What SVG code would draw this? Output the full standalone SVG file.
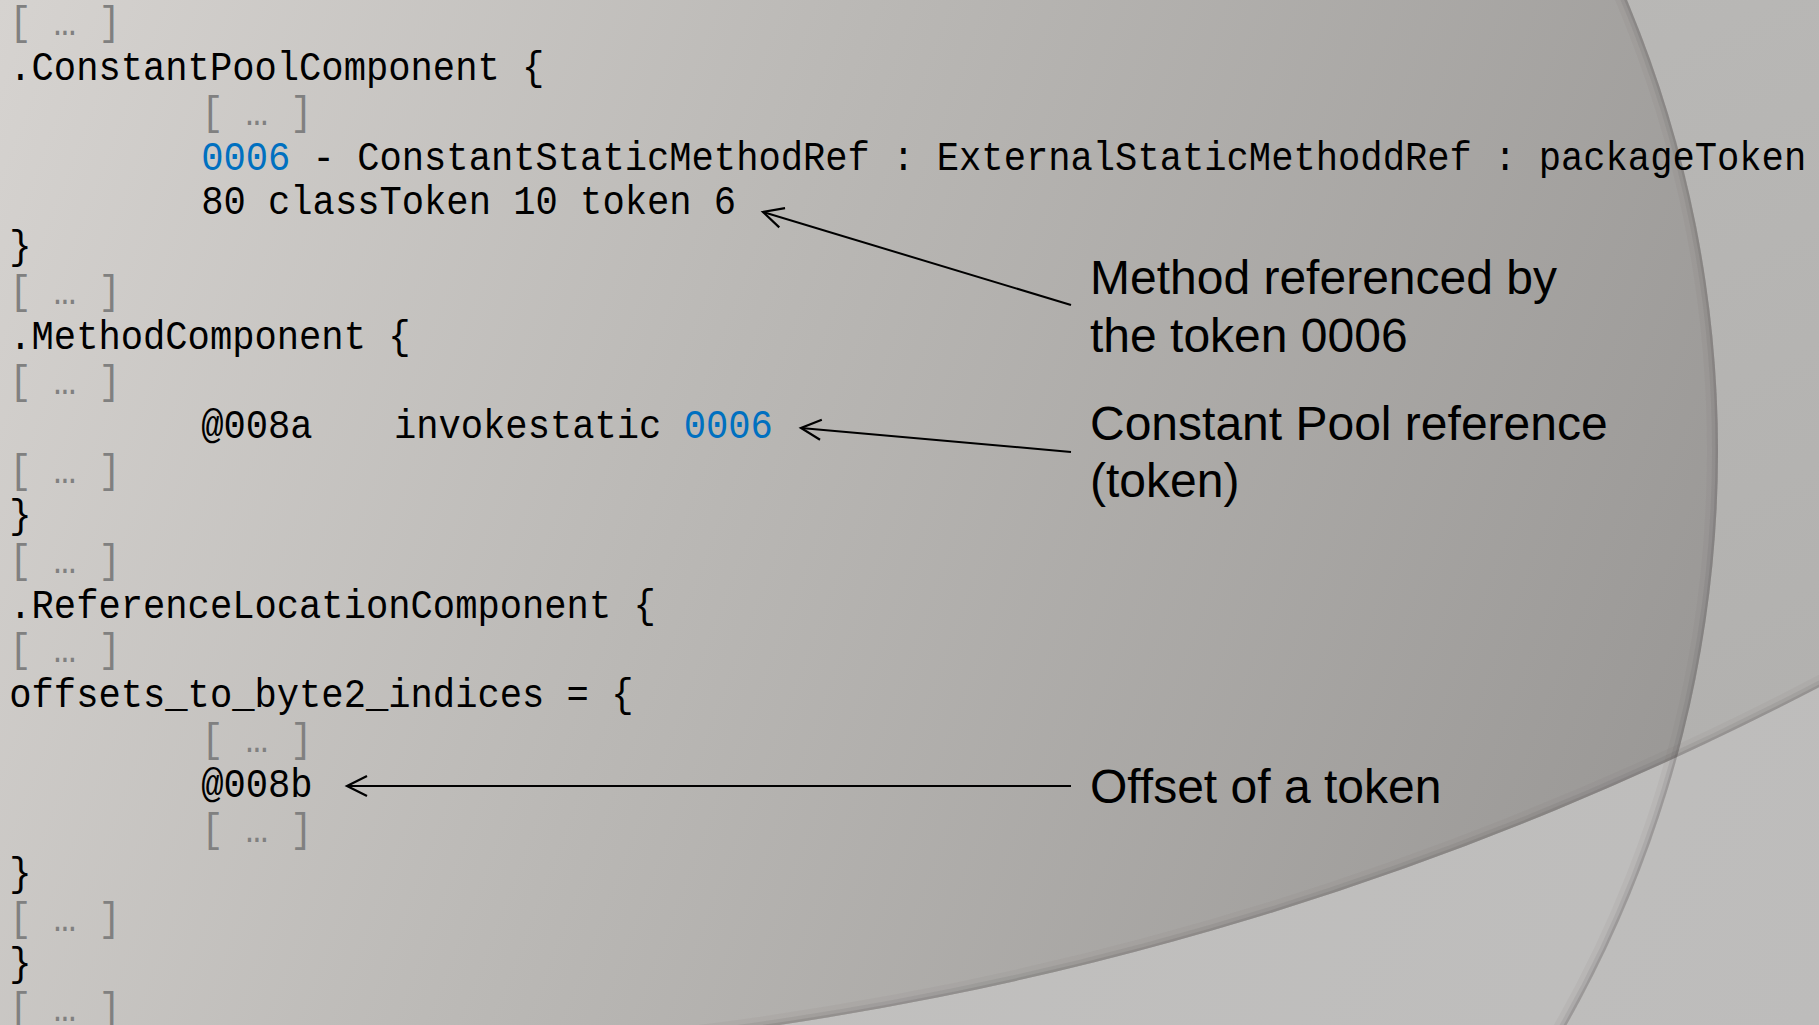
<svg xmlns="http://www.w3.org/2000/svg" width="1819" height="1025" viewBox="0 0 1819 1025">
  <defs>
    <linearGradient id="bgGrad" gradientUnits="userSpaceOnUse" x1="0" y1="0" x2="1819" y2="1025">
      <stop offset="0" stop-color="#c6c5c3"/>
      <stop offset="1" stop-color="#bdbcbb"/>
    </linearGradient>
    <linearGradient id="c2Grad" gradientUnits="userSpaceOnUse" x1="1500" y1="0" x2="1819" y2="700">
      <stop offset="0" stop-color="#b9b8b6"/>
      <stop offset="1" stop-color="#b2b1af"/>
    </linearGradient>
    <linearGradient id="mainGrad" gradientUnits="userSpaceOnUse" x1="0" y1="0" x2="1700" y2="650">
      <stop offset="0" stop-color="#d6d3d0"/>
      <stop offset="0.45" stop-color="#bab8b5"/>
      <stop offset="1" stop-color="#9b9997"/>
    </linearGradient>
    <clipPath id="clipC1">
      <circle cx="555" cy="451" r="1163"/>
    </clipPath>
    <clipPath id="clipC2">
      <circle cx="293" cy="-2241" r="3302"/>
    </clipPath>
    <marker id="openArrow" markerUnits="userSpaceOnUse" viewBox="0 0 24 24" refX="21" refY="12" markerWidth="24" markerHeight="24" orient="auto">
      <path d="M1,2 L21,12 L1,22" fill="none" stroke="#000" stroke-width="2.2" stroke-linejoin="miter"/>
    </marker>
    <style>
      .code { font-family: "Liberation Mono", "DejaVu Sans Mono", monospace; font-size: 40px; fill: #000; }
      .dim { fill: #808080; }
      .blue { fill: #0070c0; }
      .label { font-family: "Liberation Sans", Arial, sans-serif; font-size: 48px; fill: #000; }
      .conn { stroke: #000; stroke-width: 2; fill: none; marker-end: url(#openArrow); }
    </style>
  </defs>

  <!-- background -->
  <g id="background">
    <rect x="0" y="0" width="1819" height="1025" fill="url(#bgGrad)"/>
    <circle cx="293" cy="-2241" r="3302" fill="url(#c2Grad)"/>
    <g clip-path="url(#clipC2)">
      <circle cx="555" cy="451" r="1163" fill="url(#mainGrad)"/>
    </g>
    <!-- rim shadows -->
    <g clip-path="url(#clipC1)" fill="none" stroke="#5e5c5a">
      <circle cx="555" cy="451" r="1163" stroke-width="22" stroke-opacity="0.06"/>
      <circle cx="555" cy="451" r="1163" stroke-width="12" stroke-opacity="0.12"/>
      <circle cx="555" cy="451" r="1163" stroke-width="5" stroke-opacity="0.22"/>
    </g>
    <g clip-path="url(#clipC2)" fill="none" stroke="#5e5c5a">
      <circle cx="293" cy="-2241" r="3302" stroke-width="22" stroke-opacity="0.06"/>
      <circle cx="293" cy="-2241" r="3302" stroke-width="12" stroke-opacity="0.12"/>
      <circle cx="293" cy="-2241" r="3302" stroke-width="5" stroke-opacity="0.2"/>
    </g>
  </g>

  <!-- code listing -->
  <g id="code" transform="scale(0.929,1)">
    <text class="code dim" x="10" y="35.2">[ … ]</text>
    <text class="code" x="10" y="80">.ConstantPoolComponent {</text>
    <text class="code dim" x="216.5" y="124.8">[ … ]</text>
    <text class="code" x="216.5" y="169.6"><tspan class="blue">0006</tspan> - ConstantStaticMethodRef : ExternalStaticMethoddRef : packageToken</text>
    <text class="code" x="216.5" y="214.4">80 classToken 10 token 6</text>
    <text class="code" x="10" y="259.2">}</text>
    <text class="code dim" x="10" y="304">[ … ]</text>
    <text class="code" x="10" y="348.8">.MethodComponent {</text>
    <text class="code dim" x="10" y="393.6">[ … ]</text>
    <text class="code" x="216.5" y="438.4">@008a<tspan x="424">invokestatic </tspan><tspan class="blue">0006</tspan></text>
    <text class="code dim" x="10" y="483.2">[ … ]</text>
    <text class="code" x="10" y="528">}</text>
    <text class="code dim" x="10" y="572.8">[ … ]</text>
    <text class="code" x="10" y="617.6">.ReferenceLocationComponent {</text>
    <text class="code dim" x="10" y="662.4">[ … ]</text>
    <text class="code" x="10" y="707.2">offsets_to_byte2_indices = {</text>
    <text class="code dim" x="216.5" y="752">[ … ]</text>
    <text class="code" x="216.5" y="796.8">@008b</text>
    <text class="code dim" x="216.5" y="841.6">[ … ]</text>
    <text class="code" x="10" y="886.4">}</text>
    <text class="code dim" x="10" y="931.2">[ … ]</text>
    <text class="code" x="10" y="976">}</text>
    <text class="code dim" x="10" y="1020.8">[ … ]</text>
  </g>

  <!-- annotation labels -->
  <g id="label-method">
    <text class="label" x="1090" y="294">Method referenced by</text>
    <text class="label" x="1090" y="352">the token 0006</text>
  </g>
  <g id="label-cp">
    <text class="label" x="1090" y="440">Constant Pool reference</text>
    <text class="label" x="1090" y="497">(token)</text>
  </g>
  <g id="label-offset">
    <text class="label" x="1090" y="803">Offset of a token</text>
  </g>

  <!-- connectors -->
  <g id="connectors">
    <line class="conn" x1="1071" y1="305" x2="763" y2="212"/>
    <line class="conn" x1="1071" y1="452" x2="801" y2="428"/>
    <line class="conn" x1="1071" y1="786" x2="347" y2="786"/>
  </g>
</svg>
